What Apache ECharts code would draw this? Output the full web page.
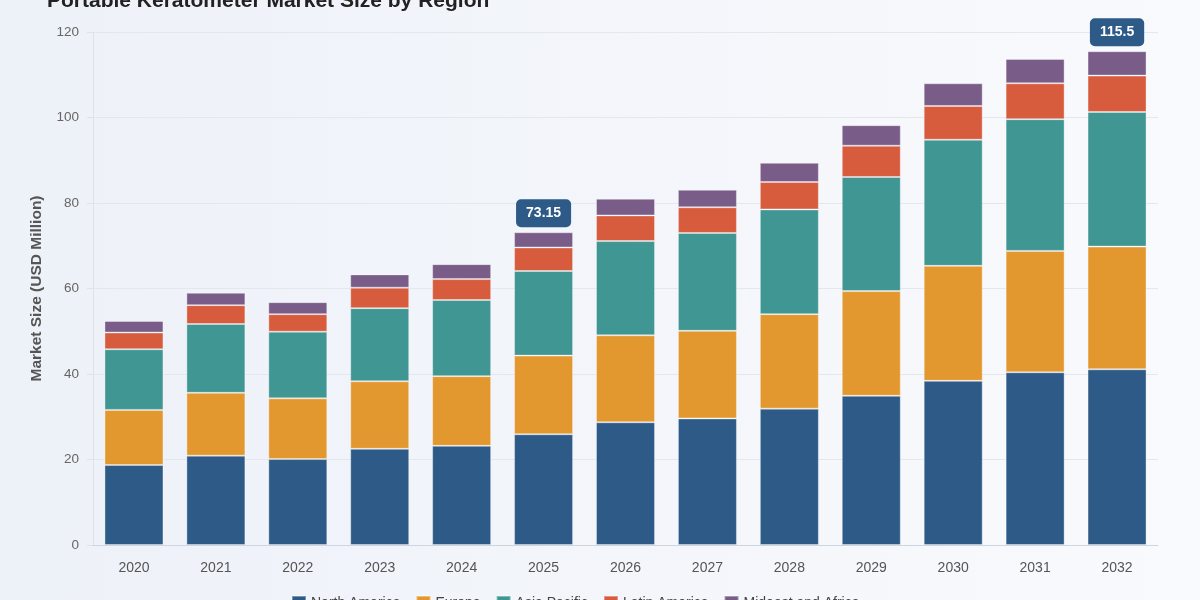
<!DOCTYPE html>
<html>
<head>
<meta charset="utf-8">
<script src="https://cdn.jsdelivr.net/npm/echarts@6/dist/echarts.min.js"></script>
<style>
  html, body { margin: 0; padding: 0; }
  #chart { width: 1200px; height: 600px; }
</style>
</head>
<body>
<div id="chart"></div>
<script>
var years = ['2020', '2021', '2022', '2023', '2024', '2025', '2026', '2027', '2028', '2029', '2030', '2031', '2032'];
var northAmerica = [18.7, 20.9, 20.1, 22.5, 23.2, 25.9, 28.7, 29.6, 31.9, 34.9, 38.4, 40.4, 41.1];
var europe = [12.9, 14.7, 14.2, 15.8, 16.3, 18.4, 20.35, 20.5, 22.1, 24.5, 26.9, 28.4, 28.7];
var asiaPacific = [14.2, 16.1, 15.6, 17.1, 17.8, 19.8, 22.05, 22.9, 24.5, 26.7, 29.5, 30.8, 31.5];
var latinAmerica = [3.9, 4.4, 4.1, 4.8, 4.9, 5.5, 6.0, 6.0, 6.4, 7.3, 7.9, 8.4, 8.5];
var mideastAfrica = [2.7, 2.9, 2.8, 3.1, 3.5, 3.55, 3.9, 4.1, 4.5, 4.8, 5.3, 5.7, 5.7];
// totals shown in a callout above these years
var calloutYears = ['2025', '2032'];

var regions = [
  { name: 'North America', data: northAmerica, color: '#2d5a87' },
  { name: 'Europe', data: europe, color: '#e3982f' },
  { name: 'Asia Pacific', data: asiaPacific, color: '#409693' },
  { name: 'Latin America', data: latinAmerica, color: '#d75b3d' },
  { name: 'Mideast and Africa', data: mideastAfrica, color: '#7a5c89' }
];

function totalAt(i) {
  var sum = 0;
  regions.forEach(function(r) { sum += r.data[i]; });
  return Math.round(sum * 100) / 100;
}

var series = regions.map(function(r, idx) {
  var last = idx === regions.length - 1;
  return {
    name: r.name,
    type: 'bar',
    stack: 'total',
    barCategoryGap: '28%',
    itemStyle: { color: r.color, borderColor: 'rgba(255,255,255,0.35)', borderWidth: 1 },
    emphasis: { disabled: true },
    data: r.data.map(function(v, i) {
      if (!last || calloutYears.indexOf(years[i]) < 0) return v;
      return {
        value: v,
        label: {
          show: true,
          position: 'top',
          distance: 5,
          formatter: String(totalAt(i)),
          color: '#fff',
          fontSize: 14,
          fontWeight: 'bold',
          backgroundColor: '#2d5a87',
          borderRadius: 5,
          padding: [7, 10]
        }
      };
    })
  };
});

var chart = echarts.init(document.getElementById('chart'));
chart.setOption({
  backgroundColor: new echarts.graphic.LinearGradient(0, 0, 1, 0, [
    { offset: 0, color: '#edf1f8' },
    { offset: 1, color: '#f9fafd' }
  ]),
  animation: false,
  textStyle: { fontFamily: '"Liberation Sans", Arial, sans-serif' },
  title: {
    text: 'Portable Keratometer Market Size by Region',
    left: 42,
    top: -14,
    textStyle: { fontSize: 21, fontWeight: 'bold', color: '#222' }
  },
  legend: {
    data: regions.map(function(r) { return r.name; }),
    left: 286,
    top: 590,
    itemWidth: 14,
    itemHeight: 14,
    itemGap: 15,
    icon: 'rect',
    textStyle: { fontSize: 14, color: '#444' }
  },
  grid: { left: 93, right: 42, top: 32, bottom: 55 },
  xAxis: {
    type: 'category',
    data: years,
    axisLine: { lineStyle: { color: '#cfd5de' } },
    axisTick: { show: false },
    axisLabel: { color: '#555', fontSize: 14, margin: 16 }
  },
  yAxis: {
    type: 'value',
    min: 0,
    max: 120,
    interval: 20,
    name: 'Market Size (USD Million)',
    nameLocation: 'middle',
    nameGap: 48,
    nameTextStyle: { fontSize: 15.5, fontWeight: 'bold', color: '#555' },
    axisLine: { show: true, lineStyle: { color: '#dde2ea' } },
    axisTick: { show: true, length: 6, lineStyle: { color: '#dde2ea' } },
    axisLabel: { color: '#666', fontSize: 13.5, margin: 14 },
    splitLine: { lineStyle: { color: '#e3e7ee' } }
  },
  series: series
});
</script>
</body>
</html>
